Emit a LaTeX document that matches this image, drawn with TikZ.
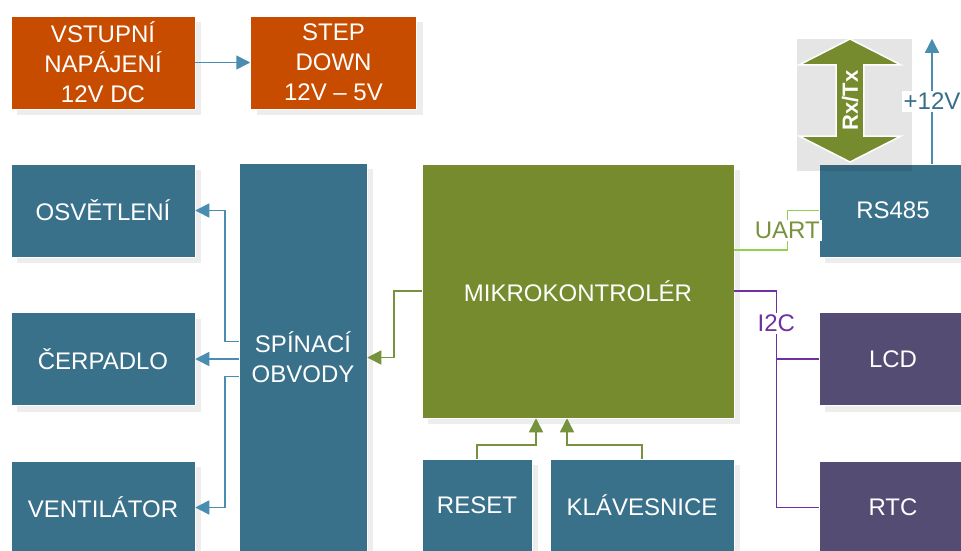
\documentclass[tikz,border=0pt]{standalone}
\usepackage{fontspec}
\setmainfont{Liberation Sans}
\usetikzlibrary{positioning, arrows.meta, shapes.arrows, shadows}

\definecolor{oranzova}{RGB}{200,76,0}
\definecolor{modra}{RGB}{58,113,138}
\definecolor{zelena}{RGB}{118,139,45}
\definecolor{fialova}{RGB}{84,76,115}
\definecolor{sipka}{RGB}{74,141,176}
\definecolor{zelsipka}{RGB}{118,146,60}
\definecolor{sbernice}{RGB}{112,48,160}
\definecolor{uart}{RGB}{146,208,80}
\definecolor{uarttext}{RGB}{119,147,60}
\definecolor{napeti}{RGB}{55,110,138}

\begin{document}
\begin{tikzpicture}[
    x=1pt, y=-1pt,
    every node/.style={font=\fontsize{24}{30}\selectfont},
    blok/.style={draw=white, line width=0.5pt, text=white, align=center, inner sep=0pt,
        drop shadow={shadow xshift=6pt, shadow yshift=-6pt, fill=black!7, opacity=1}},
    napajeni/.style={blok, fill=oranzova, minimum height=93pt},
    vystup/.style={blok, fill=modra, minimum width=184pt, minimum height=93pt},
    periferie/.style={blok, fill=fialova, minimum width=148pt, minimum height=93pt},
    rxtx/.style={double arrow, fill=zelena, draw=white, line width=1.5pt, text=white,
        font=\bfseries\fontsize{22}{26}\selectfont, inner sep=0pt,
        minimum height=123pt, minimum width=102pt,
        double arrow head extend=24pt, double arrow tip angle=126},
    popis/.style={fill=white, inner sep=2pt, font=\fontsize{24}{28}\selectfont},
    modrasipka/.style={draw=sipka, line width=1.5pt, -{Triangle[length=14pt, width=14pt]}},
    zelenasipka/.style={draw=zelsipka, line width=1.5pt, -{Triangle[length=14pt, width=14pt]}},
    vodic/.style={line width=1.5pt}
]
\useasboundingbox (0,0) rectangle (961,550);

\node[napajeni, minimum width=184pt] (vstup) at (103,62.5) {VSTUPNÍ\\NAPÁJENÍ\\12V DC};
\node[napajeni, minimum width=166pt, right=55pt of vstup] (stepdown) {STEP\\DOWN\\12V – 5V};

\node[vystup] (osvetleni) at (103,210.5) {OSVĚTLENÍ};
\node[vystup, below=55pt of osvetleni] (cerpadlo) {ČERPADLO};
\node[vystup, below=55pt of cerpadlo] (ventilator) {VENTILÁTOR};

\node[blok, fill=modra, minimum width=128pt, minimum height=389pt] (spinaci) at (303,357.5) {SPÍNACÍ\\OBVODY};
\node[blok, fill=zelena, minimum width=312pt, minimum height=254pt] (mcu) at (578,291) {MIKROKONTROLÉR};
\node[blok, fill=modra, minimum width=110pt, minimum height=93pt] (reset) at (477,505.5) {RESET};
\node[blok, fill=modra, minimum width=184pt, minimum height=93pt] (klav) at (642,505.5) {KLÁVESNICE};

\node[blok, fill=modra, minimum width=148pt, minimum height=93pt] (rs) at (893,210.5) {RS485};
\node[periferie, below=55pt of rs] (lcd) {LCD};
\node[periferie, below=55pt of lcd] (rtc) {RTC};

\fill[black, fill opacity=0.1] (797,39) rectangle (912,171);
\node[rxtx, rotate=90] (sbersmer) at (850,100.5) {Rx/Tx};

\draw[modrasipka] (vstup) -- (stepdown);
\draw[modrasipka] ([yshift=16pt]spinaci.west) -- ++(-14,0) |- (osvetleni.east);
\draw[modrasipka] (spinaci.west |- cerpadlo) -- (cerpadlo.east);
\draw[modrasipka] ([yshift=-19pt]spinaci.west) -- ++(-14,0) |- (ventilator.east);

\draw[zelenasipka] (mcu.west) -- ++(-28,0) |- (spinaci.east);
\draw[zelenasipka] (reset.north) -- ++(0,-14) -| ([xshift=-42pt]mcu.south);
\draw[zelenasipka] (klav.north) -- ++(0,-14) -| ([xshift=-11pt]mcu.south);

\draw[vodic, draw=uart] ([yshift=41pt]mcu.east) -- ++(53,0) |- node[popis, text=uarttext, pos=0.25] {UART} (rs.west);

\draw[vodic, draw=sbernice] (mcu.east) -- ++(42,0) coordinate (sb) |- node[popis, text=sbernice, pos=0.075] {I2C} (rtc.west);
\draw[vodic, draw=sbernice] (sb |- lcd.west) -- (lcd.west);

\draw[modrasipka] ([xshift=39pt]rs.north) -- node[popis, text=napeti] {+12V} ++(0,-125);
\end{tikzpicture}
\end{document}
